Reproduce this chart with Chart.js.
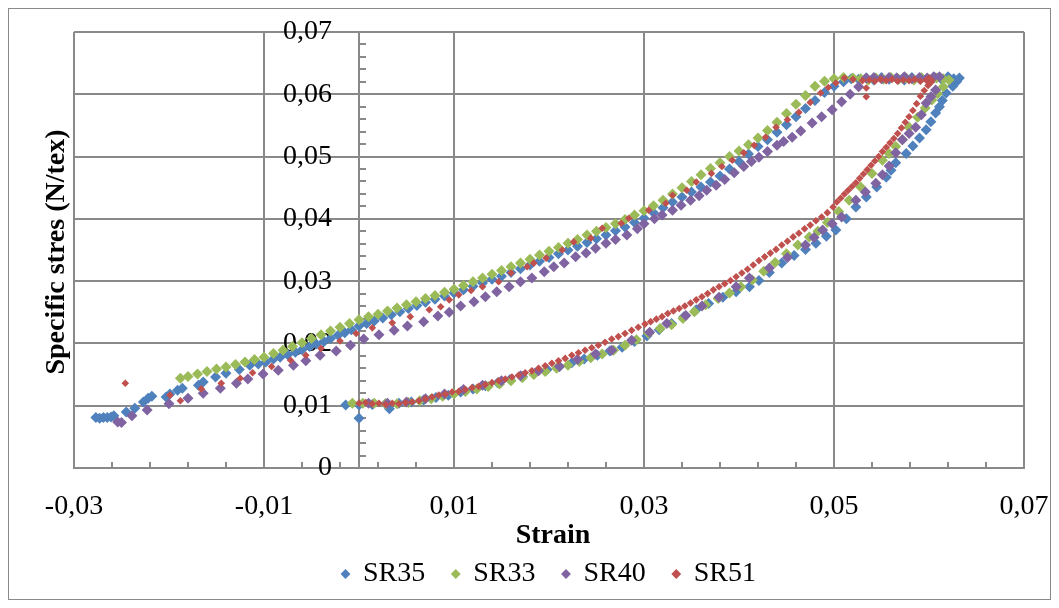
<!DOCTYPE html>
<html>
<head>
<meta charset="utf-8">
<title>Specific stress vs strain</title>
<script src="https://cdn.jsdelivr.net/npm/chart.js@4.4.0/dist/chart.umd.min.js"></script>
<style>
  html, body { margin: 0; padding: 0; background: #fff; }
  #wrap { width: 1059px; height: 608px; }
</style>
</head>
<body>
<div id="wrap"><canvas id="chart" width="1059" height="608"></canvas></div>
<script>
// axis ticks (comma decimals in the labels)
const xTickValues = [-0.03, -0.01, 0.01, 0.03, 0.05, 0.07];
const yTickValues = [0, 0.01, 0.02, 0.03, 0.04, 0.05, 0.06, 0.07];
const seriesNames = ['SR35', 'SR33', 'SR40', 'SR51'];

// [strain, specific stress N/tex] for each loop
const sr35Points = [
  [-0.0277,0.0081],[-0.0273,0.0080],[-0.0269,0.0081],[-0.0265,0.0081],[-0.0261,0.0082],[-0.0258,0.0084],
  [-0.0245,0.0090],[-0.0236,0.0096],[-0.0227,0.0106],[-0.0222,0.0112],[-0.0218,0.0115],[-0.0203,0.0114],
  [-0.0199,0.0119],[-0.0191,0.0125],[-0.0186,0.0128],[-0.0169,0.0133],[-0.0164,0.0138],[-0.0151,0.0146],
  [-0.0140,0.0152],[-0.0126,0.0158],[-0.0115,0.0165],[-0.0106,0.0167],[-0.0098,0.0170],[-0.0090,0.0175],
  [-0.0083,0.0178],[-0.0075,0.0182],[-0.0067,0.0186],[-0.0060,0.0190],[-0.0052,0.0195],[-0.0045,0.0199],
  [-0.0037,0.0203],[-0.0030,0.0208],[-0.0022,0.0213],[-0.0015,0.0217],[-0.0008,0.0222],[0.0000,0.0228],
  [0.0008,0.0232],[0.0016,0.0236],[0.0025,0.0241],[0.0034,0.0246],[0.0043,0.0251],[0.0052,0.0256],
  [0.0061,0.0261],[0.0070,0.0266],[0.0080,0.0271],[0.0090,0.0276],[0.0100,0.0281],[0.0110,0.0286],
  [0.0120,0.0292],[0.0130,0.0297],[0.0140,0.0303],[0.0150,0.0308],[0.0160,0.0314],[0.0170,0.0320],
  [0.0180,0.0326],[0.0190,0.0332],[0.0200,0.0338],[0.0210,0.0344],[0.0220,0.0350],[0.0230,0.0356],
  [0.0240,0.0362],[0.0250,0.0368],[0.0260,0.0374],[0.0270,0.0381],[0.0280,0.0387],[0.0290,0.0394],
  [0.0300,0.0401],[0.0310,0.0410],[0.0320,0.0418],[0.0330,0.0427],[0.0340,0.0435],[0.0350,0.0443],
  [0.0360,0.0451],[0.0370,0.0459],[0.0380,0.0469],[0.0390,0.0480],[0.0400,0.0492],[0.0410,0.0504],
  [0.0420,0.0516],[0.0430,0.0527],[0.0440,0.0539],[0.0450,0.0551],[0.0460,0.0564],[0.0470,0.0577],
  [0.0480,0.0590],[0.0490,0.0603],[0.0500,0.0613],[0.0510,0.0620],[0.0518,0.0625],
  [0.0526,0.0624],[0.0534,0.0626],[0.0542,0.0623],[0.0550,0.0627],[0.0558,0.0624],[0.0566,0.0626],
  [0.0574,0.0623],[0.0582,0.0627],[0.0590,0.0625],[0.0598,0.0624],[0.0606,0.0627],[0.0614,0.0623],
  [0.0620,0.0628],[0.0626,0.0625],[0.0632,0.0626],[0.0629,0.0620],
  [0.0625,0.0613],[0.0618,0.0602],[0.0614,0.0590],[0.0611,0.0580],[0.0607,0.0570],[0.0602,0.0556],
  [0.0597,0.0543],[0.0590,0.0530],[0.0583,0.0517],[0.0576,0.0505],[0.0565,0.0490],[0.0560,0.0478],
  [0.0555,0.0467],[0.0545,0.0451],[0.0534,0.0435],[0.0523,0.0419],[0.0513,0.0400],[0.0502,0.0382],
  [0.0492,0.0372],[0.0481,0.0361],[0.0470,0.0351],[0.0458,0.0341],[0.0445,0.0329],[0.0432,0.0314],
  [0.0421,0.0301],[0.0411,0.0291],[0.0397,0.0283],[0.0383,0.0274],[0.0368,0.0264],[0.0355,0.0254],
  [0.0342,0.0243],[0.0329,0.0232],[0.0316,0.0222],[0.0303,0.0212],[0.0290,0.0203],[0.0277,0.0194],
  [0.0264,0.0188],[0.0251,0.0181],[0.0237,0.0175],[0.0224,0.0169],[0.0211,0.0163],[0.0198,0.0158],
  [0.0185,0.0152],[0.0172,0.0147],[0.0159,0.0142],[0.0146,0.0137],[0.0133,0.0132],[0.0120,0.0127],
  [0.0107,0.0122],[0.0094,0.0117],[0.0081,0.0113],[0.0068,0.0109],[0.0055,0.0106],[0.0042,0.0104],
  [0.0032,0.0095],[0.0028,0.0103],[0.0014,0.0102],[0.0000,0.0101],[-0.0014,0.0101],[0.0000,0.0080]
];

const sr33Points = [
  [-0.0188,0.0144],[-0.0180,0.0147],[-0.0170,0.0151],[-0.0160,0.0155],[-0.0150,0.0159],[-0.0140,0.0162],
  [-0.0130,0.0166],[-0.0120,0.0170],[-0.0110,0.0174],[-0.0100,0.0178],[-0.0090,0.0184],[-0.0080,0.0189],
  [-0.0070,0.0195],[-0.0060,0.0201],[-0.0050,0.0208],[-0.0040,0.0214],[-0.0030,0.0220],[-0.0020,0.0226],
  [-0.0010,0.0232],[0.0000,0.0238],[0.0010,0.0243],[0.0020,0.0247],[0.0030,0.0252],[0.0040,0.0257],
  [0.0050,0.0262],[0.0060,0.0267],[0.0070,0.0272],[0.0080,0.0277],[0.0090,0.0282],[0.0100,0.0287],
  [0.0110,0.0293],[0.0120,0.0299],[0.0130,0.0305],[0.0140,0.0311],[0.0150,0.0317],[0.0160,0.0323],
  [0.0170,0.0329],[0.0180,0.0335],[0.0190,0.0342],[0.0200,0.0348],[0.0210,0.0354],[0.0220,0.0361],
  [0.0230,0.0367],[0.0240,0.0374],[0.0250,0.0380],[0.0260,0.0386],[0.0270,0.0392],[0.0280,0.0399],
  [0.0290,0.0406],[0.0300,0.0413],[0.0310,0.0421],[0.0320,0.0430],[0.0330,0.0440],[0.0340,0.0450],
  [0.0350,0.0460],[0.0360,0.0471],[0.0370,0.0481],[0.0380,0.0490],[0.0390,0.0500],[0.0400,0.0509],
  [0.0410,0.0519],[0.0420,0.0530],[0.0430,0.0542],[0.0440,0.0555],[0.0450,0.0569],[0.0460,0.0584],
  [0.0470,0.0598],[0.0480,0.0613],[0.0490,0.0621],[0.0500,0.0625],[0.0510,0.0627],[0.0520,0.0626],
  [0.0528,0.0625],[0.0536,0.0623],[0.0544,0.0626],[0.0552,0.0624],[0.0560,0.0627],[0.0568,0.0624],
  [0.0576,0.0626],[0.0584,0.0623],[0.0592,0.0627],[0.0600,0.0624],[0.0608,0.0626],[0.0615,0.0625],
  [0.0621,0.0623],[0.0615,0.0612],[0.0609,0.0601],[0.0603,0.0591],[0.0596,0.0578],[0.0588,0.0563],
  [0.0579,0.0547],[0.0572,0.0527],[0.0565,0.0516],[0.0558,0.0505],[0.0551,0.0494],[0.0540,0.0473],
  [0.0528,0.0451],[0.0516,0.0430],[0.0505,0.0412],[0.0493,0.0394],[0.0483,0.0380],[0.0474,0.0371],
  [0.0462,0.0358],[0.0450,0.0344],[0.0438,0.0330],[0.0426,0.0316],[0.0414,0.0302],[0.0402,0.0291],
  [0.0390,0.0281],[0.0378,0.0272],[0.0365,0.0262],[0.0353,0.0251],[0.0341,0.0240],[0.0329,0.0230],
  [0.0317,0.0224],[0.0305,0.0216],[0.0292,0.0206],[0.0280,0.0197],[0.0268,0.0189],[0.0256,0.0183],
  [0.0244,0.0177],[0.0232,0.0171],[0.0220,0.0165],[0.0208,0.0160],[0.0196,0.0155],[0.0184,0.0150],
  [0.0172,0.0145],[0.0160,0.0140],[0.0148,0.0135],[0.0136,0.0131],[0.0124,0.0127],[0.0112,0.0123],
  [0.0100,0.0119],[0.0088,0.0115],[0.0076,0.0111],[0.0064,0.0108],[0.0052,0.0105],[0.0040,0.0103],
  [0.0028,0.0103],[0.0016,0.0104],[0.0004,0.0104],[-0.0007,0.0104]
];

const sr40Points = [
  [-0.0254,0.0074],[-0.0250,0.0073],[-0.0239,0.0084],[-0.0223,0.0093],[-0.0200,0.0103],[-0.0180,0.0112],
  [-0.0164,0.0120],[-0.0146,0.0128],[-0.0129,0.0136],[-0.0117,0.0143],[-0.0101,0.0151],[-0.0085,0.0157],
  [-0.0069,0.0165],[-0.0056,0.0172],[-0.0041,0.0181],[-0.0024,0.0188],[-0.0009,0.0197],[0.0005,0.0207],
  [0.0021,0.0214],[0.0037,0.0221],[0.0051,0.0228],[0.0068,0.0235],[0.0083,0.0244],[0.0095,0.0250],
  [0.0107,0.0260],[0.0121,0.0267],[0.0133,0.0275],[0.0145,0.0283],[0.0158,0.0291],[0.0170,0.0299],
  [0.0182,0.0305],[0.0195,0.0315],[0.0205,0.0323],[0.0216,0.0329],[0.0228,0.0339],[0.0239,0.0345],
  [0.0249,0.0353],[0.0260,0.0361],[0.0270,0.0367],[0.0282,0.0374],[0.0293,0.0384],[0.0300,0.0392],
  [0.0311,0.0400],[0.0319,0.0406],[0.0330,0.0414],[0.0339,0.0422],[0.0349,0.0430],[0.0358,0.0437],
  [0.0366,0.0446],[0.0376,0.0454],[0.0385,0.0463],[0.0395,0.0474],[0.0405,0.0484],[0.0413,0.0492],
  [0.0421,0.0499],[0.0430,0.0508],[0.0440,0.0518],[0.0447,0.0524],[0.0456,0.0531],[0.0465,0.0541],
  [0.0477,0.0554],[0.0487,0.0564],[0.0498,0.0575],[0.0508,0.0588],[0.0517,0.0600],[0.0526,0.0612],
  [0.0534,0.0626],[0.0542,0.0627],[0.0550,0.0625],[0.0558,0.0627],[0.0566,0.0626],[0.0574,0.0628],
  [0.0582,0.0625],[0.0590,0.0627],[0.0598,0.0626],[0.0605,0.0628],[0.0611,0.0628],
  [0.0607,0.0607],[0.0602,0.0596],[0.0597,0.0586],[0.0592,0.0567],[0.0586,0.0547],[0.0579,0.0537],
  [0.0572,0.0527],[0.0565,0.0506],[0.0558,0.0485],[0.0551,0.0471],[0.0544,0.0457],[0.0533,0.0443],
  [0.0523,0.0430],[0.0508,0.0403],[0.0498,0.0392],[0.0488,0.0382],[0.0479,0.0370],[0.0470,0.0358],
  [0.0451,0.0338],[0.0432,0.0321],[0.0411,0.0305],[0.0397,0.0291],[0.0379,0.0274],[0.0361,0.0260],
  [0.0344,0.0245],[0.0324,0.0232],[0.0306,0.0218],[0.0287,0.0205],[0.0266,0.0189],[0.0249,0.0183],
  [0.0230,0.0174],[0.0211,0.0163],[0.0189,0.0156],[0.0170,0.0148],[0.0150,0.0140],[0.0130,0.0133],
  [0.0110,0.0126],[0.0090,0.0119],[0.0070,0.0111],[0.0050,0.0106],[0.0030,0.0104],[0.0010,0.0104]
];

const sr51Points = [
  [-0.0246,0.0136],[-0.0199,0.0117],[-0.0188,0.0108],[-0.0166,0.0127],[-0.0145,0.0136],[-0.0125,0.0144],
  [-0.0112,0.0153],[-0.0092,0.0163],[-0.0072,0.0173],[-0.0056,0.0181],[-0.0040,0.0192],[-0.0020,0.0204],
  [-0.0003,0.0216],[0.0014,0.0225],[0.0035,0.0233],[0.0054,0.0243],[0.0074,0.0254],[0.0086,0.0259],
  [0.0095,0.0270],[0.0105,0.0278],[0.0118,0.0285],[0.0130,0.0291],[0.0147,0.0299],[0.0160,0.0313],
  [0.0177,0.0323],[0.0184,0.0329],[0.0197,0.0337],[0.0214,0.0350],[0.0226,0.0363],[0.0244,0.0369],
  [0.0256,0.0385],[0.0276,0.0393],[0.0284,0.0401],[0.0305,0.0414],[0.0323,0.0425],[0.0330,0.0438],
  [0.0345,0.0446],[0.0355,0.0459],[0.0371,0.0473],[0.0382,0.0484],[0.0393,0.0494],[0.0405,0.0506],
  [0.0416,0.0518],[0.0428,0.0531],[0.0439,0.0547],[0.0451,0.0559],[0.0463,0.0571],[0.0475,0.0587],
  [0.0486,0.0602],[0.0494,0.0611],[0.0502,0.0618],[0.0511,0.0626],[0.0534,0.0610],[0.0534,0.0596],
  [0.0520,0.0624],[0.0530,0.0622],[0.0537,0.0623],[0.0543,0.0621],[0.0549,0.0624],[0.0555,0.0622],
  [0.0561,0.0624],[0.0567,0.0621],[0.0573,0.0623],[0.0579,0.0622],[0.0585,0.0624],[0.0591,0.0621],
  [0.0597,0.0623],[0.0603,0.0622],[0.0600,0.0626],
  [0.0602,0.0619],[0.0599,0.0614],[0.0595,0.0606],[0.0591,0.0597],[0.0587,0.0585],[0.0583,0.0574],
  [0.0579,0.0564],[0.0575,0.0555],[0.0571,0.0546],[0.0567,0.0537],[0.0563,0.0529],[0.0559,0.0522],
  [0.0555,0.0515],[0.0551,0.0508],[0.0547,0.0500],[0.0543,0.0493],[0.0539,0.0486],[0.0535,0.0479],
  [0.0531,0.0472],[0.0527,0.0465],[0.0523,0.0458],[0.0519,0.0452],[0.0515,0.0446],[0.0511,0.0440],
  [0.0507,0.0433],[0.0503,0.0427],[0.0499,0.0419],[0.0493,0.0410],[0.0487,0.0403],[0.0481,0.0397],
  [0.0475,0.0390],[0.0469,0.0384],[0.0463,0.0377],[0.0457,0.0371],[0.0451,0.0364],[0.0445,0.0358],
  [0.0439,0.0351],[0.0433,0.0345],[0.0427,0.0339],[0.0421,0.0333],[0.0415,0.0326],[0.0409,0.0319],
  [0.0403,0.0313],[0.0397,0.0307],[0.0391,0.0301],[0.0385,0.0296],[0.0379,0.0291],[0.0373,0.0286],
  [0.0367,0.0280],[0.0361,0.0275],[0.0355,0.0270],[0.0349,0.0265],[0.0343,0.0260],[0.0337,0.0256],
  [0.0331,0.0252],[0.0325,0.0248],[0.0319,0.0243],[0.0313,0.0239],[0.0307,0.0235],[0.0301,0.0231],
  [0.0294,0.0226],[0.0287,0.0221],[0.0280,0.0216],[0.0273,0.0211],[0.0266,0.0207],[0.0259,0.0202],
  [0.0252,0.0197],[0.0245,0.0193],[0.0238,0.0189],[0.0231,0.0185],[0.0224,0.0181],[0.0217,0.0176],
  [0.0210,0.0172],[0.0203,0.0168],[0.0196,0.0164],[0.0189,0.0160],[0.0182,0.0156],[0.0175,0.0153],
  [0.0168,0.0149],[0.0161,0.0146],[0.0154,0.0143],[0.0147,0.0140],[0.0140,0.0137],[0.0133,0.0134],
  [0.0126,0.0131],[0.0119,0.0129],[0.0112,0.0126],[0.0105,0.0123],[0.0098,0.0122],[0.0091,0.0119],
  [0.0084,0.0117],[0.0077,0.0114],[0.0070,0.0111],[0.0063,0.0108],[0.0056,0.0106],[0.0049,0.0105],
  [0.0042,0.0103],[0.0035,0.0104],[0.0028,0.0102],[0.0021,0.0104],[0.0014,0.0103],[0.0007,0.0105],
  [0.0000,0.0104]
];

const FONT = "'Liberation Serif', 'Times New Roman', serif";
const GRID = '#898989';

function toXY(points) {
  return points.map(([x, y]) => ({ x, y }));
}

function commaLabel(v) {
  if (Math.abs(v) < 1e-9) return '0';
  return v.toFixed(2).replace('.', ',');
}

function noEdgePadding(scale) {
  scale.paddingLeft = scale.paddingRight = scale.paddingTop = scale.paddingBottom = 0;
}

// frame, axis titles and the small inside ticks
const decorPlugin = {
  id: 'decor',
  beforeDraw(chart) {
    const ctx = chart.ctx;
    ctx.save();
    ctx.fillStyle = '#fff';
    ctx.fillRect(0, 0, chart.width, chart.height);
    ctx.strokeStyle = GRID;
    ctx.lineWidth = 1;
    ctx.strokeRect(8.5, 8.5, 1042, 591);
    ctx.restore();
  },
  beforeDatasetsDraw(chart) {
    const ctx = chart.ctx;
    const xs = chart.scales.x, ys = chart.scales.y;
    const x0 = xs.getPixelForValue(0);
    ctx.save();
    ctx.strokeStyle = GRID;
    ctx.lineWidth = 2;
    ctx.beginPath();
    for (let i = 1; i < 25; i++) {
      if (i % 5 === 0) continue;
      const px = Math.round(xs.getPixelForValue(-0.03 + i * 0.004));
      ctx.moveTo(px, ys.bottom);
      ctx.lineTo(px, ys.bottom - 6);
    }
    for (let i = 1; i < 35; i++) {
      if (i % 5 === 0) continue;
      const py = Math.round(ys.getPixelForValue(i * 0.002));
      ctx.moveTo(x0, py);
      ctx.lineTo(x0 + 7, py);
    }
    ctx.stroke();
    ctx.restore();
  },
  afterDraw(chart) {
    const ctx = chart.ctx;
    const area = chart.chartArea;
    ctx.save();
    ctx.fillStyle = '#000';
    ctx.font = 'bold 28px ' + FONT;
    ctx.textAlign = 'center';
    ctx.textBaseline = 'middle';
    ctx.fillText('Strain', (area.left + area.right) / 2 + 4, 536);
    ctx.translate(57, 252);
    ctx.rotate(-Math.PI / 2);
    ctx.fillText('Specific stres (N/tex)', 0, 0);
    ctx.restore();
  }
};

const series = [sr35Points, sr33Points, sr40Points, sr51Points];
const colors = ['#4F81BD', '#9BBB59', '#8064A2', '#C0504D'];
const radii = [5.5, 5.5, 5.5, 3.8];

new Chart(document.getElementById('chart'), {
  type: 'scatter',
  data: {
    datasets: series.map((pts, i) => ({
      label: seriesNames[i],
      data: toXY(pts),
      pointStyle: 'rectRot',
      pointRadius: radii[i],
      pointBorderWidth: 0,
      backgroundColor: colors[i],
      borderColor: colors[i],
      order: 3 - i
    }))
  },
  options: {
    responsive: false,
    animation: false,
    devicePixelRatio: 1,
    events: [],
    layout: { autoPadding: false, padding: { left: 74, right: 35, top: 32, bottom: 10 } },
    scales: {
      x: {
        type: 'linear',
        min: -0.03,
        max: 0.07,
        afterBuildTicks: scale => { scale.ticks = xTickValues.map(value => ({ value })); },
        afterFit: scale => { scale.height = 65; noEdgePadding(scale); },
        grid: { color: GRID, lineWidth: 2, drawTicks: false },
        border: { display: true, color: GRID, width: 2 },
        ticks: {
          padding: 22,
          color: '#000',
          font: { family: FONT, size: 28 },
          maxRotation: 0,
          callback: v => commaLabel(v)
        }
      },
      y: {
        type: 'linear',
        min: 0,
        max: 0.07,
        position: { x: 0 },
        afterBuildTicks: scale => { scale.ticks = yTickValues.map(value => ({ value })); },
        afterFit: noEdgePadding,
        grid: { color: GRID, lineWidth: 2, drawTicks: false },
        border: { display: true, color: GRID, width: 2 },
        ticks: { display: false }
      },
      // tick labels only, set 27px (0.00284 strain) left of the zero line, drawn over the points
      yLabels: {
        axis: 'y',
        type: 'linear',
        min: 0,
        max: 0.07,
        position: { x: -0.00284 },
        z: 1,
        afterBuildTicks: scale => { scale.ticks = yTickValues.map(value => ({ value })); },
        afterFit: noEdgePadding,
        grid: { display: false, drawTicks: false },
        border: { display: false },
        ticks: {
          padding: 0,
          color: '#000',
          font: { family: FONT, size: 28 },
          callback: v => commaLabel(v)
        }
      }
    },
    plugins: {
      tooltip: { enabled: false },
      legend: {
        position: 'bottom',
        labels: {
          usePointStyle: true,
          boxWidth: 7,
          boxHeight: 7,
          padding: 27,
          color: '#000',
          font: { family: FONT, size: 28 },
          sort: (a, b) => a.datasetIndex - b.datasetIndex
        }
      }
    }
  },
  plugins: [decorPlugin]
});
</script>
</body>
</html>
